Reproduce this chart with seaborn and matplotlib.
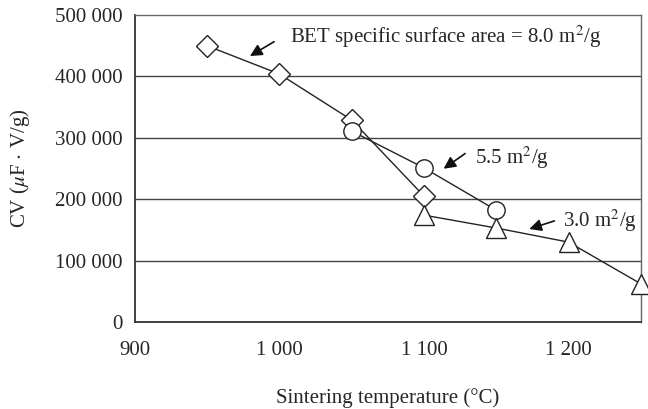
import matplotlib

matplotlib.use("Agg")

import matplotlib.pyplot as plt
import pandas as pd
import seaborn as sns

# Sintering temperature (°C) and CV (µF·V/g) per BET specific surface area
temp_80 = [950, 1000, 1050, 1100]
cv_80 = [450000, 404000, 329000, 205000]
temp_55 = [1050, 1100, 1150]
cv_55 = [311000, 251000, 182000]
temp_30 = [1100, 1150, 1200, 1250]
cv_30 = [174000, 153000, 130000, 62000]

x_ticks = [900, 950, 1000, 1050, 1100, 1150, 1200, 1250]
x_labels = ["900", "", "1 000", "", "1 100", "", "1 200", ""]
y_ticks = [0, 100000, 200000, 300000, 400000, 500000]
y_labels = ["0", "100 000", "200 000", "300 000", "400 000", "500 000"]

sns.set_theme(style="white")
plt.rcParams["font.family"] = ["Liberation Serif", "DejaVu Serif"]
plt.rcParams["mathtext.fontset"] = "stix"

fig = plt.figure(figsize=(6.48, 4.09), dpi=100)
ax = fig.add_axes([0.208, 0.213, 0.781, 0.750])

for y in y_ticks[1:-1]:
    ax.axhline(y, color="#444444", lw=1.0, zorder=0)

series = [
    (temp_80, cv_80, "D", 11),
    (temp_55, cv_55, "o", 12.5),
    (temp_30, cv_30, "^", 14),
]
for xs, ys, mk, ms in series:
    df = pd.DataFrame({"t": xs, "cv": ys})
    sns.lineplot(
        data=df, x="t", y="cv", ax=ax, color="#222222", lw=1.0,
        marker=mk, markersize=ms, markerfacecolor="white",
        markeredgecolor="#222222", markeredgewidth=1.0, clip_on=False, zorder=3,
    )

fs = 15
ax.set_xlim(900, 1250)
ax.set_ylim(0, 500000)
ax.set_xticks(x_ticks)
ax.set_xticklabels(x_labels, fontsize=fs)
ax.set_yticks(y_ticks)
ax.set_yticklabels(y_labels, fontsize=fs)
ax.tick_params(axis="x", direction="in", length=5, width=1, color="#333333", pad=14)
ax.tick_params(axis="y", length=0, pad=9)

for side in ["left", "bottom"]:
    ax.spines[side].set_color("#333333")
    ax.spines[side].set_linewidth(1.3)
for side in ["top", "right"]:
    ax.spines[side].set_color("#666666")
    ax.spines[side].set_linewidth(1.0)

ax.set_xlabel("Sintering temperature (\u00b0C)", fontsize=fs, labelpad=20)
ax.set_ylabel(r"CV ($\mu$F $\cdot$ V/g)", fontsize=fs, labelpad=16)

arrow = dict(arrowstyle="-|>", color="#111111", lw=1.2, mutation_scale=18)
ax.annotate("", xy=(978, 431000), xytext=(998, 459000), arrowprops=arrow)
ax.text(1007, 464000, r"BET specific surface area = 8.0 m$^2$/g", fontsize=fs, va="center")
ax.annotate("", xy=(1112, 247000), xytext=(1130, 277000), arrowprops=arrow)
ax.text(1135, 268000, r"5.5 m$^2$/g", fontsize=fs, va="center")
ax.annotate("", xy=(1171, 150000), xytext=(1192, 166000), arrowprops=arrow)
ax.text(1196, 164000, r"3.0 m$^2$/g", fontsize=fs, va="center")

fig.savefig("out.png", dpi=100, facecolor="white")
